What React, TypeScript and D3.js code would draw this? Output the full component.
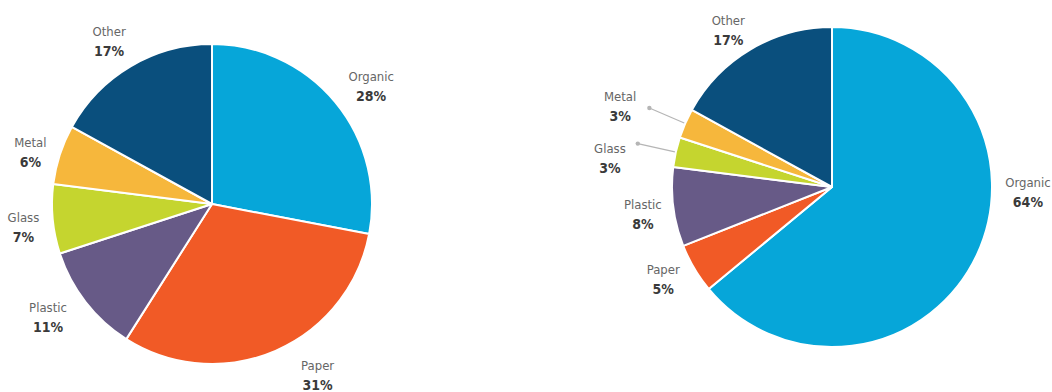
import React from "react";
import * as d3 from "d3";

const categories = ["Organic", "Paper", "Plastic", "Glass", "Metal", "Other"];
const leftValues = [28, 31, 11, 7, 6, 17];
const rightValues = [64, 5, 8, 3, 3, 17];
const colors = ["#06a6d9", "#f15a26", "#675a87", "#c5d52f", "#f6b73c", "#0a4f7d"];

const W = 1052;
const H = 392;
const R = 160;

type Nudge = { angle?: number; r?: number; leader?: boolean };

const leftNudges: Record<string, Nudge> = {
  Organic: { angle: 53.5, r: 198 },
  Paper: { angle: 148.3, r: 201 },
  Plastic: { angle: 235.5, r: 199 },
  Glass: { angle: 263, r: 190 },
  Metal: { angle: 286, r: 189 },
  Other: { angle: 327.8, r: 193 },
};
const rightNudges: Record<string, Nudge> = {
  Organic: { angle: 91.5, r: 196 },
  Paper: { angle: 241.5, r: 192 },
  Plastic: { angle: 262, r: 191 },
  Glass: { angle: 277.5, r: 224, leader: true },
  Metal: { angle: 291, r: 227, leader: true },
  Other: { angle: 326.5, r: 188 },
};

const FONT = "'DejaVu Sans Condensed', 'Liberation Sans Narrow', 'DejaVu Sans', sans-serif";

function Pie({ values, cx, cy, nudges }: { values: number[]; cx: number; cy: number; nudges: Record<string, Nudge> }) {
  const data = categories.map((c, i) => ({ name: c, value: values[i], color: colors[i] }));
  const arcs = d3.pie<any>().sort(null).value((d: any) => d.value)(data);
  const arcGen = d3.arc<any>().innerRadius(0).outerRadius(R);
  return (
    <g transform={`translate(${cx},${cy})`}>
      {arcs.map((a, i) => (
        <path key={i} d={arcGen(a) || ""} fill={a.data.color} stroke="#ffffff" strokeWidth={2} strokeLinejoin="round" />
      ))}
      {arcs.map((a, i) => {
        const n = nudges[a.data.name] || {};
        const mid = (a.startAngle + a.endAngle) / 2;
        const ang = n.angle !== undefined ? (n.angle * Math.PI) / 180 : mid;
        const r = n.r ?? 195;
        const x = r * Math.sin(ang);
        const y = -r * Math.cos(ang);
        let leader = null;
        if (n.leader) {
          const r1 = 161, r2 = 199;
          const x1 = r1 * Math.sin(mid), y1 = -r1 * Math.cos(mid);
          const x2 = r2 * Math.sin(mid), y2 = -r2 * Math.cos(mid);
          leader = (
            <g>
              <line x1={x1} y1={y1} x2={x2} y2={y2} stroke="#b5b5b5" strokeWidth={1.2} />
              <circle cx={x2} cy={y2} r={2.2} fill="#b5b5b5" />
            </g>
          );
        }
        return (
          <g key={"l" + i}>
            {leader}
            <text x={x} y={y - 5} textAnchor="middle" fontFamily={FONT} fontSize={13} fill="#666">
              {a.data.name}
            </text>
            <text x={x} y={y + 15} textAnchor="middle" fontFamily={FONT} fontSize={14} fontWeight="bold" fill="#3a3a3a">
              {a.data.value}%
            </text>
          </g>
        );
      })}
    </g>
  );
}

export default function App() {
  return (
    <svg width={W} height={H} style={{ position: "absolute", left: 0, top: 0, background: "#fff" }}>
      <rect width={W} height={H} fill="#fff" />
      <Pie values={leftValues} cx={212} cy={204} nudges={leftNudges} />
      <Pie values={rightValues} cx={832} cy={187} nudges={rightNudges} />
    </svg>
  );
}
